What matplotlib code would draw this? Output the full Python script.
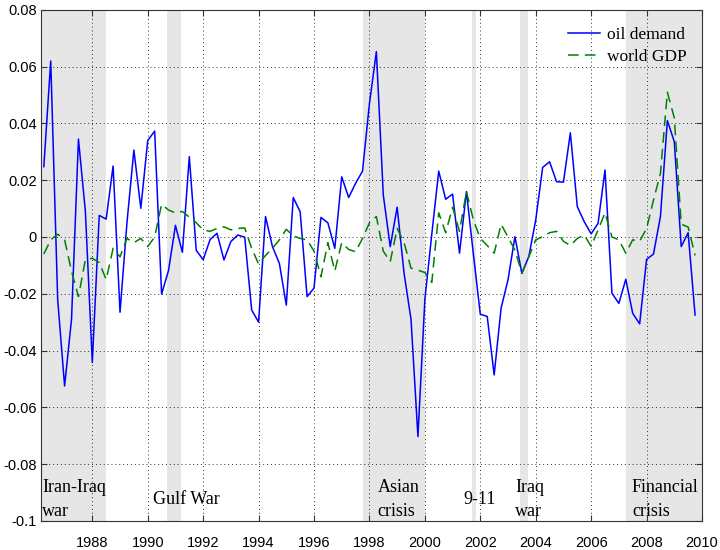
import numpy as np
import matplotlib
matplotlib.use("Agg")
import matplotlib.pyplot as plt

# quarterly dates
dates = np.arange(1986.25, 2010.0, 0.25)

oil_demand = [
    0.0248, 0.062, -0.022, -0.0525, -0.029, 0.0345, 0.009, -0.0442, 0.0076, 0.0063,
    0.025, -0.0265, 0.005, 0.0306, 0.0101, 0.034, 0.0373, -0.0201, -0.0118, 0.0041,
    -0.0054, 0.0283, -0.0047, -0.008, -0.0009, 0.0013, -0.0081, -0.0016, 0.0007, -0.0001,
    -0.0257, -0.030, 0.0072, -0.0034, -0.0093, -0.024, 0.0139, 0.0089, -0.021, -0.018,
    0.0069, 0.005, -0.004, 0.0212, 0.0139, 0.0189, 0.0232, 0.047, 0.0653, 0.0148,
    -0.0034, 0.0105, -0.0128, -0.029, -0.0703, -0.022, 0.001, 0.0232, 0.0133, 0.0151,
    -0.0057, 0.016, -0.006, -0.0272, -0.028, -0.0486, -0.0251, -0.0151, 0.0001, -0.0128,
    -0.0069, 0.006, 0.0245, 0.0265, 0.0195, 0.0193, 0.0367, 0.0107, 0.0054, 0.0011,
    0.0048, 0.0236, -0.0198, -0.0234, -0.0149, -0.0269, -0.0306, -0.0079, -0.006, 0.0072,
    0.041, 0.0336, -0.0034, 0.0015, -0.0275,
]

world_gdp = [
    -0.006, -0.001, 0.001, -0.001, -0.012, -0.021, -0.008, -0.0075, -0.009, -0.015,
    -0.004, -0.007, -0.0005, -0.002, -0.0005, -0.0034, 0.0, 0.0115, 0.0095, 0.0085,
    0.009, 0.007, 0.005, 0.0025, 0.002, 0.003, 0.0036, 0.0025, 0.003, 0.0032,
    -0.004, -0.0095, -0.0065, -0.004, -0.001, 0.0027, 0.0004, -0.0005, -0.001, -0.005,
    -0.014, -0.002, -0.012, -0.002, -0.0044, -0.0052, -0.0005, 0.005, 0.0072, -0.005,
    -0.0087, 0.003, -0.002, -0.011, -0.0117, -0.0125, -0.016, 0.0085, 0.0015, 0.0105,
    0.002, 0.016, 0.006, -0.0005, -0.003, -0.0057, 0.0045, 0.0, -0.0046, -0.0128,
    -0.007, -0.001, 0.0001, 0.0015, 0.002, -0.0015, -0.003, -0.0005, 0.0007, -0.0033,
    0.0025, 0.0085, 0.0, -0.001, -0.0057, -0.001, -0.0015, 0.003, 0.013, 0.0224,
    0.051, 0.042, 0.0045, 0.0035, -0.0065,
]

# shaded event periods (start, end)
events = [(1986.0, 1988.5), (1990.7, 1991.2), (1997.75, 2000.0),
          (2001.7, 2001.85), (2003.45, 2003.72), (2007.25, 2010.0)]

# event labels: (x, y, text)
event_labels = [
    (1986.2, -0.0925, "Iran-Iraq\nwar"),
    (1990.2, -0.0925, "Gulf War"),
    (1998.3, -0.0925, "Asian\ncrisis"),
    (2001.4, -0.0925, "9-11"),
    (2003.25, -0.0925, "Iraq\nwar"),
    (2007.47, -0.0925, "Financial\ncrisis"),
]

xticks = list(range(1988, 2011, 2))
yticks = [-0.1, -0.08, -0.06, -0.04, -0.02, 0, 0.02, 0.04, 0.06, 0.08]
ytick_labels = ["-0.1", "-0.08", "-0.06", "-0.04", "-0.02", "0", "0.02", "0.04", "0.06", "0.08"]

SERIF = ["Liberation Serif", "DejaVu Serif"]

fig = plt.figure(figsize=(7.2, 5.5), dpi=100)
ax = fig.add_axes([0.057, 0.053, 0.918, 0.929])

for start, end in events:
    ax.axvspan(start, end, color="#e6e6e6", lw=0, zorder=0)

ax.plot(dates, oil_demand, color="blue", lw=1.1, label="oil demand", zorder=3)
ax.plot(dates, world_gdp, color="#008000", lw=1.1, ls=(0, (7, 4)),
        label="world GDP", zorder=3)

for x, y, txt in event_labels:
    ax.text(x, y, txt, family=SERIF, fontsize=13, va="center", ha="left",
            linespacing=1.55, zorder=4)

ax.set_xlim(1986.15, 2010.0)
ax.set_ylim(-0.1, 0.08)
ax.set_xticks(xticks)
ax.set_yticks(yticks)
ax.set_yticklabels(ytick_labels)
ax.tick_params(direction="in", top=True, right=True, length=4, labelsize=10.5,
               color="#333333")
ax.tick_params(axis="x", pad=11)
ax.tick_params(axis="y", pad=3)
for lab in ax.get_xticklabels() + ax.get_yticklabels():
    lab.set_family("Liberation Sans")
ax.grid(True, ls=(0, (1, 3)), color="black", lw=0.7, alpha=0.8)
ax.set_axisbelow(True)
for sp in ax.spines.values():
    sp.set_color("#333333")
    sp.set_linewidth(0.8)

leg = ax.legend(loc="upper right", prop={"family": SERIF, "size": 12.5},
                handlelength=1.85, handletextpad=0.4, borderaxespad=0.5,
                frameon=False, labelspacing=0.35,
                bbox_to_anchor=(1.0, 0.997))
leg.set_zorder(5)

fig.savefig("out.png", dpi=100)
plt.close(fig)
